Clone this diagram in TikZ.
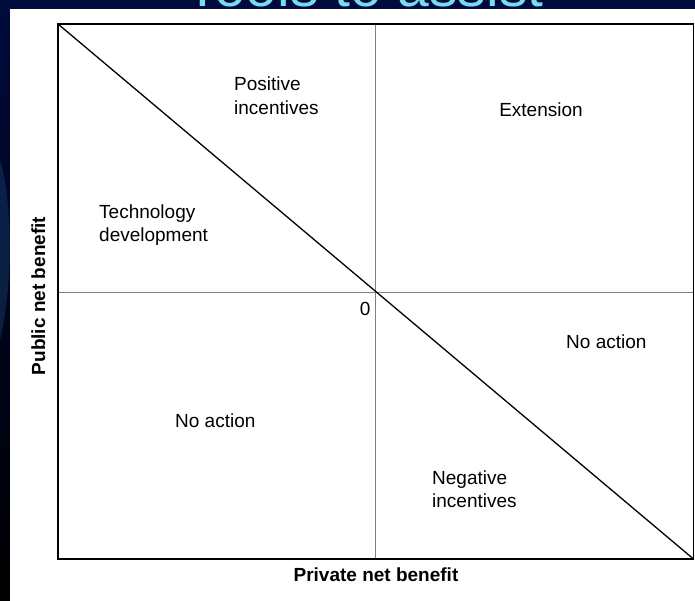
\documentclass[tikz,border=0pt]{standalone}
\usepackage{fontspec}
\setmainfont{Liberation Sans}
\definecolor{slidenavy}{RGB}{0,10,60}
\definecolor{swooshblue}{RGB}{30,80,130}
\definecolor{titlecyan}{RGB}{120,220,240}
\begin{document}
\begin{tikzpicture}[x=1pt,y=-1pt,
    lbl/.style={font=\fontsize{19}{23.5}\selectfont, inner sep=0pt, align=left},
    axlbl/.style={font=\fontsize{19}{23}\selectfont\bfseries, inner sep=0pt}]
  \useasboundingbox (0,0) rectangle (695,601);
  \clip (0,0) rectangle (695,601);
  % slide background
  \shade[top color=slidenavy, bottom color=black] (0,0) rectangle (695,601);
  \fill[swooshblue, opacity=.35] (0,160) .. controls (12,200) and (14,280) .. (0,340) -- cycle;
  \node[font=\fontsize{57}{60}\selectfont, text=titlecyan, anchor=base] (title) at (364.5,7) {Tools to assist};
  \fill[white] (10,8.7) rectangle (695,601);
  % chart frame
  \coordinate (nw) at (58,24);
  \coordinate (se) at (693.5,559);
  \coordinate (o) at (375.8,292.5);
  \draw[gray, line width=1.1pt] (o |- nw) -- (o |- se);
  \draw[gray, line width=1.1pt] (o -| nw) -- (o -| se);
  \draw[line width=1.3pt] (nw) -- (se);
  \draw[line width=1.6pt] (nw) rectangle (se);
  % quadrant labels (base = last line)
  \node[lbl, anchor=base west] (posinc) at (234,114.3) {Positive\\incentives};
  \node[lbl, anchor=base] (ext) at (541,116.8) {Extension};
  \node[lbl, anchor=base west] (tech) at (99,241.7) {Technology\\development};
  \node[lbl, anchor=base east] (zero) at (370.7,315.7) {0};
  \node[lbl, anchor=base west] (noactr) at (566,348) {No action};
  \node[lbl, anchor=base west] (noactl) at (175,427) {No action};
  \node[lbl, anchor=base west] (neginc) at (432,507.5) {Negative\\incentives};
  % axis labels
  \node[axlbl, anchor=base] (xlabel) at (376,581.7) {Private net benefit};
  \node[axlbl, anchor=base, rotate=90] (ylabel) at (45,296) {Public net benefit};
\end{tikzpicture}
\end{document}
